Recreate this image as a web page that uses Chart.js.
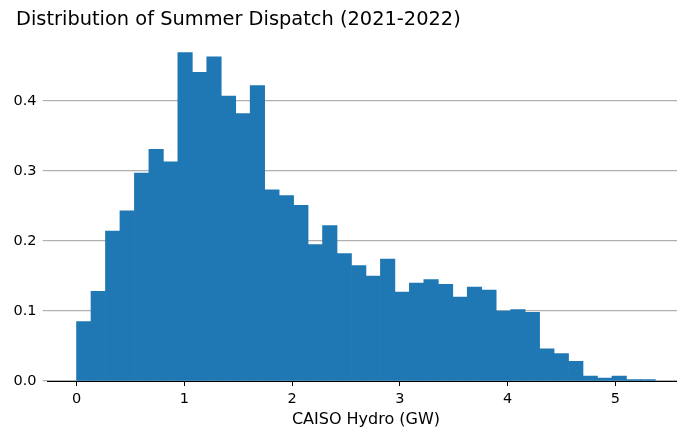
<!DOCTYPE html>
<html>
<head>
<meta charset="utf-8">
<script src="https://cdn.jsdelivr.net/npm/chart.js@4.4.1/dist/chart.umd.min.js"></script>
<style>
    html, body { margin: 0; padding: 0; background: #fff; }
    #wrap { width: 677px; height: 429px; overflow: hidden; position: relative; }
    #myChart { display: block; }
</style>
</head>
<body>
<div id="wrap"><canvas id="myChart" width="690" height="429"></canvas></div>
<script>
// Histogram: 40 bins from 0 GW, density values
const binStart = 0;
const binWidth = 0.13425;
const density = [
    0.085, 0.128, 0.214, 0.243, 0.297, 0.331, 0.313, 0.469, 0.441, 0.463,
    0.407, 0.382, 0.422, 0.273, 0.265, 0.251, 0.195, 0.222, 0.182, 0.165,
    0.150, 0.174, 0.127, 0.140, 0.145, 0.138, 0.120, 0.134, 0.130, 0.100,
    0.102, 0.098, 0.046, 0.039, 0.028, 0.007, 0.004, 0.007, 0.002, 0.002
];
const xTicks = [0, 1, 2, 3, 4, 5];
const yTicks = [0.0, 0.1, 0.2, 0.3, 0.4];

const titleText = 'Distribution of Summer Dispatch (2021-2022)';
const xLabel = 'CAISO Hydro (GW)';

// centres of bins for the linear x scale
const points = density.map((v, i) => ({ x: binStart + (i + 0.5) * binWidth, y: v }));

const dataMax = binStart + density.length * binWidth;
const xPad = (dataMax - binStart) * 0.05;
const yMax = Math.max(...density) * 1.05;

const font = 'DejaVu Sans';
const ctx = document.getElementById('myChart').getContext('2d');

// title sits a bit in from the left edge, not at the plot's left
const titleShift = {
    id: 'titleShift',
    afterLayout(chart) {
        if (chart.titleBlock) chart.titleBlock.left = 16;
    }
};

new Chart(ctx, {
    type: 'bar',
    data: {
        datasets: [{
            data: points,
            backgroundColor: '#1f77b4',
            borderWidth: 0,
            barPercentage: 1,
            categoryPercentage: 1
        }]
    },
    options: {
        responsive: false,
        animation: false,
        layout: { padding: { left: 0, right: 5.7, top: 0, bottom: 0 } },
        plugins: {
            legend: { display: false },
            tooltip: { enabled: false },
            title: {
                display: true,
                text: titleText,
                align: 'start',
                color: '#000',
                font: { family: font, size: 19.4, weight: 'normal' },
                padding: { top: 8, bottom: 5 }
            }
        },
        scales: {
            x: {
                type: 'linear',
                offset: false,
                min: binStart - xPad,
                max: dataMax + xPad,
                afterFit: (scale) => { scale.height = 48; },
                afterBuildTicks: (scale) => { scale.ticks = xTicks.map(v => ({ value: v })); },
                ticks: {
                    color: '#000',
                    padding: 5,
                    font: { family: font, size: 14.5 },
                    callback: (v) => String(v)
                },
                grid: {
                    offset: false,
                    drawOnChartArea: false,
                    drawTicks: true,
                    tickLength: 5,
                    tickColor: '#000'
                },
                border: { display: true, color: '#000', width: 1 },
                title: {
                    display: true,
                    text: xLabel,
                    color: '#000',
                    font: { family: font, size: 16 },
                    padding: { top: 0, bottom: 0 }
                }
            },
            y: {
                min: 0,
                max: yMax,
                afterFit: (scale) => { scale.width = 47.6; },
                afterBuildTicks: (scale) => { scale.ticks = yTicks.map(v => ({ value: v })); },
                ticks: {
                    color: '#000',
                    padding: 6,
                    font: { family: font, size: 14.5 },
                    callback: (v) => v.toFixed(1)
                },
                grid: {
                    color: '#b0b0b0',
                    lineWidth: 1.2,
                    tickLength: 5
                },
                border: { display: false }
            }
        }
    },
    plugins: [titleShift]
});
</script>
</body>
</html>
